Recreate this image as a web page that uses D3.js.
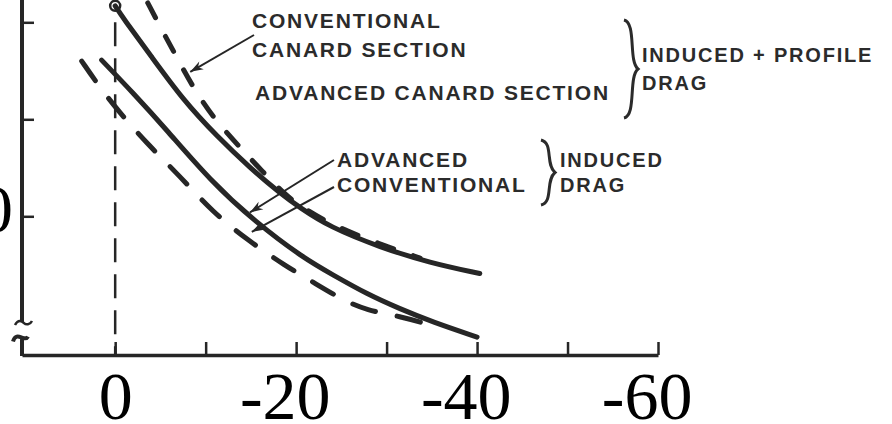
<!DOCTYPE html>
<html>
<head>
<meta charset="utf-8">
<script src="https://cdn.jsdelivr.net/npm/d3@7"></script>
<style>
  html, body { margin: 0; padding: 0; background: #fff; }
  svg { display: block; }
</style>
</head>
<body>
<svg id="chart"></svg>
<script>
const width = 892;
const height = 424;

// angle (deg) vs drag (counts)
const advTotalAlpha = [0, -0.9, -3.9, -7.5, -11.3, -14.9, -18.2, -20.4, -23.7, -29.3, -34.8, -40.3];
const advTotalDrag = [417, 404, 366, 320, 282, 250, 224, 209, 189, 168, 152, 141];
const convTotalAlpha = [-3.6, -5.0, -6.8, -8.6, -10.8, -13.8, -16.2, -18.8, -20.4, -23.7, -29.3, -33.7];
const convTotalDrag = [420, 395, 364, 333, 302, 271, 247, 222, 211, 192, 171, 157];
const advInducedAlpha = [1.5, -2.0, -5.7, -10.5, -15.5, -20.8, -24.1, -27.8, -31.5, -35.1, -40.0];
const advInducedDrag = [361, 327, 289, 237, 194, 157, 139.5, 120, 104.5, 91, 75.5];
const convInducedAlpha = [3.7, 1.7, -0.4, -3.5, -7.1, -10.8, -14.7, -18.8, -21.9, -25.1, -27.8, -31.5, -34.8];
const convInducedDrag = [360, 333, 308, 275, 242, 204, 175, 149, 132, 114, 103, 97, 88];

const xTicks = [0, -10, -20, -30, -40, -50, -60];
const xLabels = [0, -20, -40, -60];
const yTicks = [200, 300, 400];
const yBreak = [75, 91];

let marginLeft = 22;
let axisY = 355;
let ink = "#262626";

const svg = d3.select("#chart").attr("width", width).attr("height", height);

const xScale = d3.scaleLinear().domain([10.3, -60]).range([marginLeft, 658]);
const yScale = d3.scaleLinear().domain([57, 423]).range([axisY, 0]);

const zip = (a, b) => a.map((d, i) => [d, b[i]]);
const line = d3
  .line()
  .x((d) => xScale(d[0]))
  .y((d) => yScale(d[1]))
  .curve(d3.curveBasis);

// zero line
svg
  .append("line")
  .attr("x1", xScale(0))
  .attr("x2", xScale(0))
  .attr("y1", yScale(400))
  .attr("y2", axisY)
  .attr("stroke", ink)
  .attr("stroke-width", 2.5)
  .attr("stroke-dasharray", "24,12");

// x axis
const xAxis = d3
  .axisBottom(xScale)
  .tickValues(xTicks)
  .tickSizeInner(-13)
  .tickSizeOuter(0)
  .tickFormat((d) => (xLabels.includes(d) ? String(d) : ""));

const gx = svg
  .append("g")
  .attr("transform", `translate(0, ${axisY})`)
  .call(xAxis);
gx.select(".domain").attr("stroke", ink).attr("stroke-width", 3.5);
gx.selectAll(".tick line").attr("stroke", ink).attr("stroke-width", 2.5);
// digits centred on the tick, the minus sign hangs to the left
gx.selectAll(".tick text")
  .attr("fill", "#000")
  .attr("font-family", "'Liberation Serif', 'Times New Roman', serif")
  .attr("font-size", 68)
  .attr("text-anchor", "middle")
  .attr("y", 64)
  .attr("dy", 0)
  .attr("dx", (d) => (d < 0 ? "-0.167em" : 0));

// y axis (ticks only, domain drawn with a break)
const yAxis = d3.axisLeft(yScale).tickValues(yTicks).tickSizeInner(-12).tickSizeOuter(0).tickFormat("");
const gy = svg.append("g").attr("transform", `translate(${marginLeft}, 0)`).call(yAxis);
gy.select(".domain").remove();
gy.selectAll(".tick line").attr("stroke", ink).attr("stroke-width", 2.5);

const yTop = yScale(yBreak[1]);
const yBot = yScale(yBreak[0]);
svg
  .append("path")
  .attr("d", `M${marginLeft},0 V${yTop}`)
  .attr("stroke", ink)
  .attr("stroke-width", 4)
  .attr("fill", "none");
svg
  .append("path")
  .attr(
    "d",
    `M${marginLeft - 7},${yTop + 3} C${marginLeft - 4},${yTop - 3} ${marginLeft},${yTop - 1} ${marginLeft + 2},${yTop + 1} S${marginLeft + 8},${yTop + 3} ${marginLeft + 10},${yTop - 1}`,
  )
  .attr("stroke", ink)
  .attr("stroke-width", 2.5)
  .attr("fill", "none");
svg
  .append("path")
  .attr(
    "d",
    `M${marginLeft - 9},${yBot + 4} C${marginLeft - 7},${yBot - 3} ${marginLeft - 3},${yBot - 1} ${marginLeft},${yBot} S${marginLeft + 5},${yBot + 1} ${marginLeft + 6},${yBot - 1} M${marginLeft},${yBot} V${axisY + 1}`,
  )
  .attr("stroke", ink)
  .attr("stroke-width", 4)
  .attr("fill", "none");

// cropped label on the left edge
svg
  .append("text")
  .attr("x", 13)
  .attr("y", 232)
  .attr("text-anchor", "end")
  .attr("font-family", "'Liberation Serif', serif")
  .attr("font-size", 68)
  .attr("fill", "#000")
  .text("0");

// curves
const series = [
  { key: "advTotal", pts: zip(advTotalAlpha, advTotalDrag), dash: null },
  { key: "convTotal", pts: zip(convTotalAlpha, convTotalDrag), dash: "17,21" },
  { key: "advInduced", pts: zip(advInducedAlpha, advInducedDrag), dash: null },
  { key: "convInduced", pts: zip(convInducedAlpha, convInducedDrag), dash: "24,22" },
];

svg
  .selectAll(".curve")
  .data(series)
  .join("path")
  .attr("class", "curve")
  .attr("d", (d) => line(d.pts))
  .attr("fill", "none")
  .attr("stroke", ink)
  .attr("stroke-width", 5)
  .attr("stroke-linecap", "round")
  .attr("stroke-dasharray", (d) => d.dash);

// little circle at the start of the top curve
svg
  .append("circle")
  .attr("cx", xScale(advTotalAlpha[0]))
  .attr("cy", yScale(advTotalDrag[0]))
  .attr("r", 5)
  .attr("fill", "none")
  .attr("stroke", ink)
  .attr("stroke-width", 2.5);

// arrows
svg
  .append("defs")
  .append("marker")
  .attr("id", "head")
  .attr("viewBox", "-14 -6 16 12")
  .attr("markerWidth", 16)
  .attr("markerHeight", 12)
  .attr("markerUnits", "userSpaceOnUse")
  .attr("refX", 0)
  .attr("refY", 0)
  .attr("orient", "auto")
  .append("path")
  .attr("d", "M0,0 L-13,-4.5 L-9,0 L-13,4.5 Z")
  .attr("fill", ink);

const arrows = [
  { from: [254, 35], tip: [-8.3, 349] },
  { from: [334, 160], tip: [-14.9, 204] },
  { from: [334, 187], tip: [-15.1, 184] },
];
svg
  .selectAll(".arrow")
  .data(arrows)
  .join("line")
  .attr("class", "arrow")
  .attr("x1", (d) => d.from[0])
  .attr("y1", (d) => d.from[1])
  .attr("x2", (d) => xScale(d.tip[0]))
  .attr("y2", (d) => yScale(d.tip[1]))
  .attr("stroke", ink)
  .attr("stroke-width", 2)
  .attr("marker-end", "url(#head)");

// labels
const labels = [
  { t: "CONVENTIONAL", x: 252, y: 28, s: 21 },
  { t: "CANARD SECTION", x: 252, y: 57, s: 21 },
  { t: "ADVANCED CANARD SECTION", x: 255, y: 100, s: 21 },
  { t: "INDUCED + PROFILE", x: 642, y: 62, s: 20 },
  { t: "DRAG", x: 642, y: 90, s: 20 },
  { t: "ADVANCED", x: 337, y: 167, s: 21 },
  { t: "CONVENTIONAL", x: 337, y: 192, s: 21 },
  { t: "INDUCED", x: 560, y: 167, s: 20 },
  { t: "DRAG", x: 560, y: 192, s: 20 },
];
svg
  .selectAll(".label")
  .data(labels)
  .join("text")
  .attr("class", "label")
  .attr("x", (d) => d.x)
  .attr("y", (d) => d.y)
  .attr("font-family", "'Liberation Sans', Arial, sans-serif")
  .attr("font-weight", "bold")
  .attr("font-size", (d) => d.s)
  .attr("letter-spacing", 1.8)
  .attr("fill", "#2b2b2b")
  .text((d) => d.t);

// braces
const brace = (x, y1, y2, w) => {
  const m = (y1 + y2) / 2;
  return `M${x},${y1} C${x + w * 0.9},${y1 + 3} ${x + w * 0.3},${m - 8} ${x + w},${m} C${x + w * 0.3},${m + 8} ${x + w * 0.9},${y2 - 3} ${x},${y2}`;
};
svg
  .selectAll(".brace")
  .data([
    [624, 20, 118, 14],
    [541, 140, 205, 14],
  ])
  .join("path")
  .attr("class", "brace")
  .attr("d", (d) => brace(...d))
  .attr("fill", "none")
  .attr("stroke", "#2b2b2b")
  .attr("stroke-width", 3);
</script>
</body>
</html>
